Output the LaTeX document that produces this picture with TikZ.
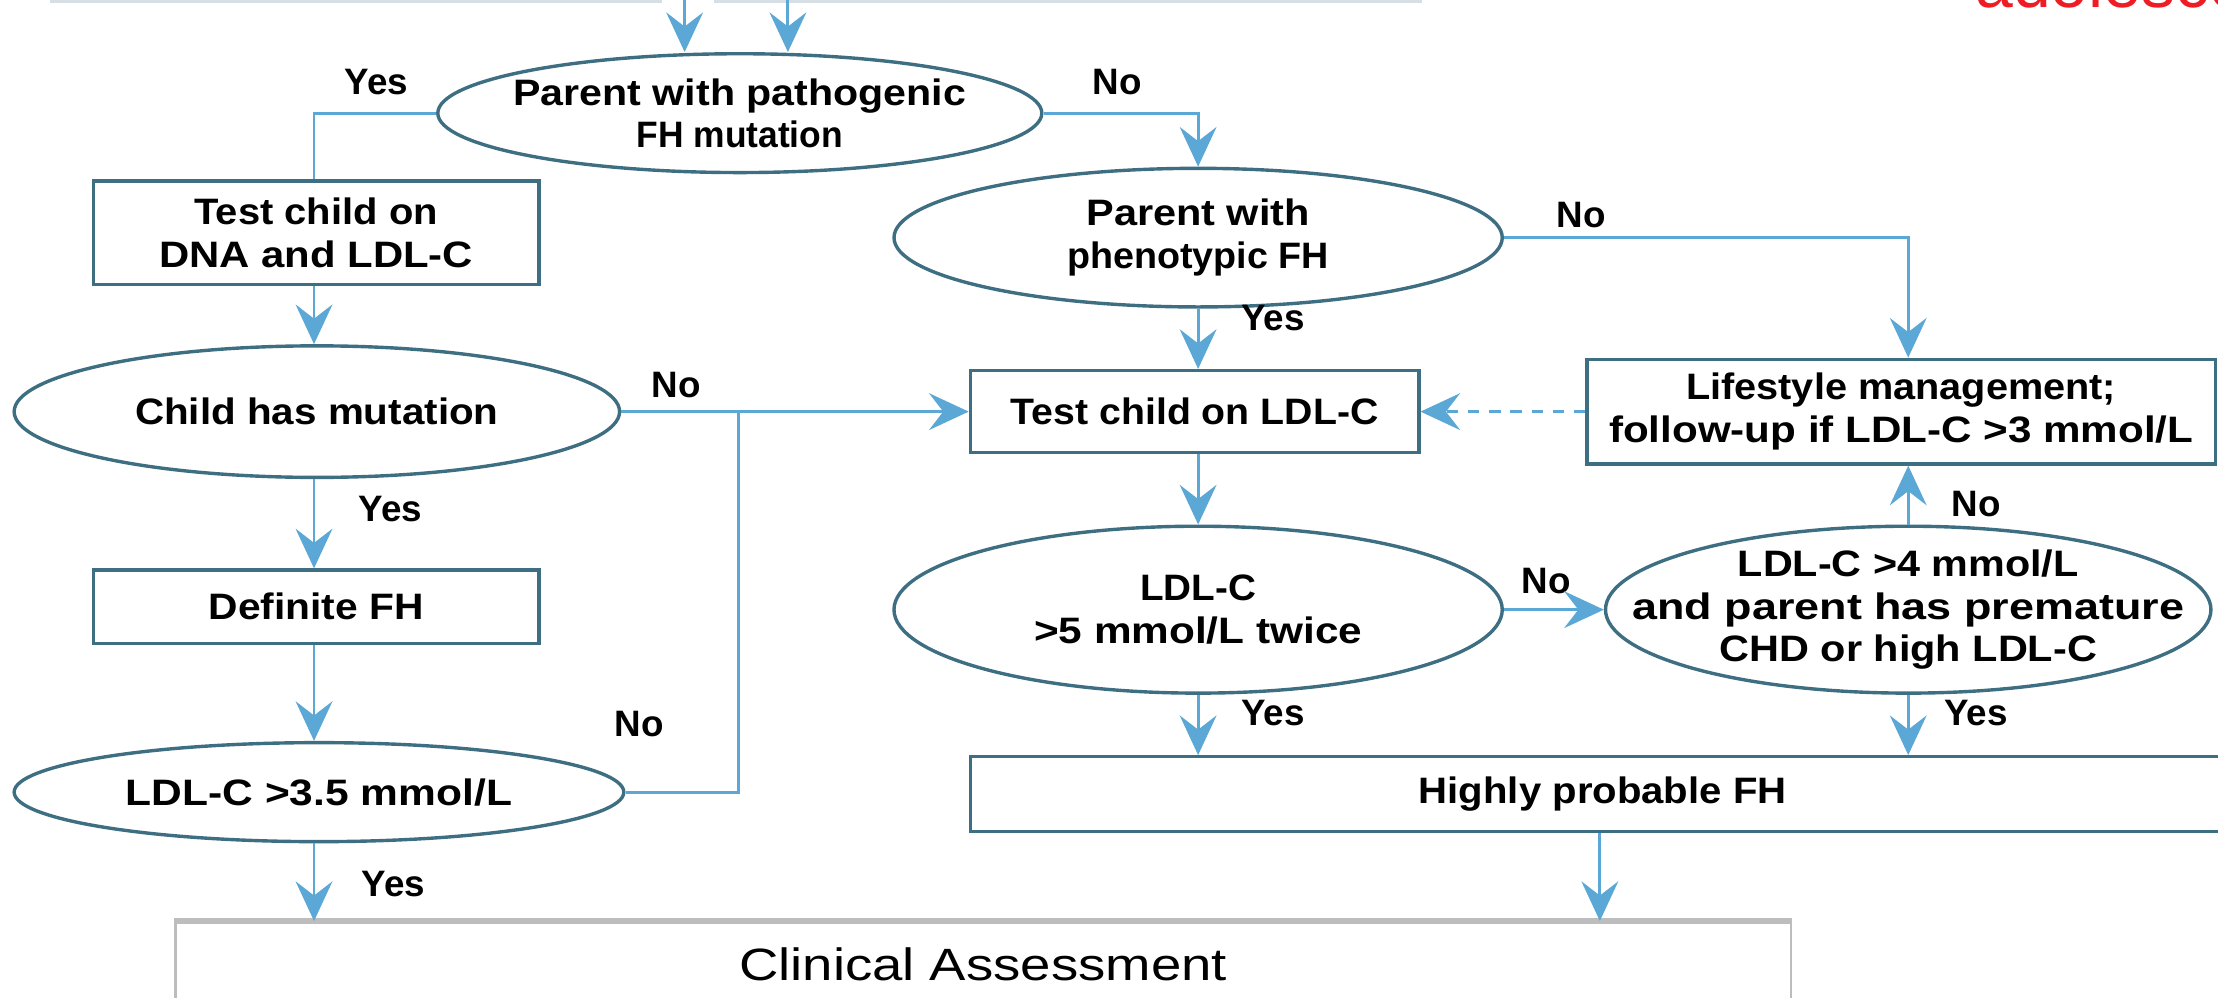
\documentclass[tikz,border=0pt]{standalone}
\usepackage{fontspec}
\setmainfont{Liberation Sans}
\usetikzlibrary{shapes.geometric,arrows.meta}
\definecolor{arr}{HTML}{5BA7D5}
\definecolor{edgec}{HTML}{3E6E82}
\definecolor{cgray}{HTML}{BDBDBD}
\definecolor{topline}{HTML}{D6DEE6}
\definecolor{redtxt}{HTML}{EE1C25}
\newlength\upx \setlength\upx{0.5pt}
\newcommand\tw[2]{\resizebox{#1\upx}{\height}{#2}}
\begin{document}
\begin{tikzpicture}[x=0.5pt,y=-0.5pt,
  txt/.style={font=\fontsize{13}{15}\selectfont\bfseries, align=center, text=black},
  sz/.style 2 args={minimum width=#1*0.5pt, minimum height=#2*0.5pt},
  ell/.style={ellipse, draw=edgec, line width=1.2pt, inner sep=-60pt, txt},
  boxn/.style={rectangle, draw=edgec, line width=1.2pt, inner sep=0pt, txt},
  lab/.style={font=\fontsize{13}{15}\selectfont\bfseries, inner sep=0pt},
  link/.style={draw=arr, line width=1pt},
  arrow/.style={link, -{Stealth[length=14pt,width=13pt,inset=5pt]}}
]
\useasboundingbox (0,0) rectangle (1568,705);
\clip (0,0) rectangle (1568,705);

% red fragment at top right
\node[anchor=base west, text=redtxt, font=\fontsize{24}{24}\selectfont, inner sep=0pt] (red) at (1396,5) {adolescence};

% top guide lines
\coordinate (g1) at (35,1); \coordinate (g2) at (468,1);
\coordinate (g3) at (505,1); \coordinate (g4) at (1005,1);
\draw[topline, line width=1pt] (g1) -- (g2);
\draw[topline, line width=1pt] (g3) -- (g4);

% nodes
\node[ell, sz={427}{84}] (e1) at (523,80) {\tw{320}{Parent with pathogenic}\\\tw{146}{FH mutation}};
\node[ell, sz={430}{98}] (e2) at (847,168) {\tw{158}{Parent with}\\\tw{185}{phenotypic FH}};
\node[boxn, sz={315}{73}] (b1) at (223.5,164.5) {\tw{172}{Test child on}\\\tw{222}{DNA and LDL-C}};
\node[ell, sz={428}{93}] (e3) at (224,291) {\tw{257}{Child has mutation}};
\node[boxn, sz={317}{58}] (b2) at (844.5,291) {\tw{260}{Test child on LDL-C}};
\node[boxn, sz={444}{74}] (b3) at (1344,291) {\tw{304}{Lifestyle management;}\\\tw{413}{follow-up if LDL-C >3 mmol/L}};
\node[boxn, sz={315}{52}] (b4) at (223.5,429) {\tw{152}{Definite FH}};
\node[ell, sz={430}{118}] (e4) at (847,431) {\tw{82}{LDL-C}\\\tw{232}{>5 mmol/L twice}};
\node[ell, sz={428}{118}] (e6) at (1349,431) {\tw{241}{LDL-C >4 mmol/L}\\\tw{390}{and parent has premature}\\\tw{267}{CHD or high LDL-C}};
\node[ell, sz={431}{70}] (e5) at (225.5,560) {\tw{273}{LDL-C >3.5 mmol/L}};
\node[boxn, sz={894}{53}] (b5) at (1133,561.5) {\tw{260}{Highly probable FH}};
\node[rectangle, draw=cgray, line width=0.9pt, inner sep=0pt, sz={1142}{60}, font=\fontsize{16}{18}\selectfont] (b6) at (695,682) {\tw{345}{Clinical Assessment}};
\draw[cgray, line width=2.2pt] (b6.north west) -- (b6.north east);

% labels
\node[lab] (l1) at (266,58) {Yes};
\node[lab] (l2) at (790,58) {No};
\node[lab] (l3) at (1118,152) {No};
\node[lab] (l4) at (900,225) {Yes};
\node[lab] (l5) at (478,272) {No};
\node[lab] (l6) at (276,360) {Yes};
\node[lab] (l7) at (1397,356) {No};
\node[lab] (l8) at (1093,411) {No};
\node[lab] (l9) at (452,512) {No};
\node[lab] (l10) at (900,504) {Yes};
\node[lab] (l11) at (1397,504) {Yes};
\node[lab] (l12) at (278,625) {Yes};

% connectors
\coordinate (t1) at (484,-5); \coordinate (t2) at (557,-5);
\coordinate (cl) at (222,0); \coordinate (cr) at (847,0); \coordinate (cf) at (1349,0);
\draw[arrow] (t1) -- (t1 |- e1.north);
\draw[arrow] (t2) -- (t2 |- e1.north);
\draw[link] (e1.west) -| (cl |- b1.north);
\draw[arrow] (e1.east) -| (cr |- e2.north);
\draw[arrow] (cl |- b1.south) -- (cl |- e3.north);
\coordinate (j1) at (522,291);
\draw[arrow] (e3.east) -- (b2.west);
\draw[link] (e5.east) -| (j1);
\draw[arrow] (cl |- e3.south) -- (cl |- b4.north);
\draw[arrow] (cl |- b4.south) -- (cl |- e5.north);
\draw[arrow] (cl |- e5.south) -- (cl |- b6.north);
\draw[arrow] (e2.east) -| (cf |- b3.north);
\draw[arrow] (cr |- e2.south) -- (cr |- b2.north);
\draw[arrow, dash pattern=on 4pt off 3.5pt] (b3.west) -- (b2.east);
\draw[arrow] (cr |- b2.south) -- (cr |- e4.north);
\draw[arrow] (e4.east) -- (e6.west);
\draw[arrow] (e6.north) -- (cf |- b3.south);
\draw[arrow] (e4.south) -- (cr |- b5.north);
\draw[arrow] (e6.south) -- (cf |- b5.north);
\draw[arrow] (1131,0 |- b5.south) -- (1131,0 |- b6.north);
\end{tikzpicture}
\end{document}
